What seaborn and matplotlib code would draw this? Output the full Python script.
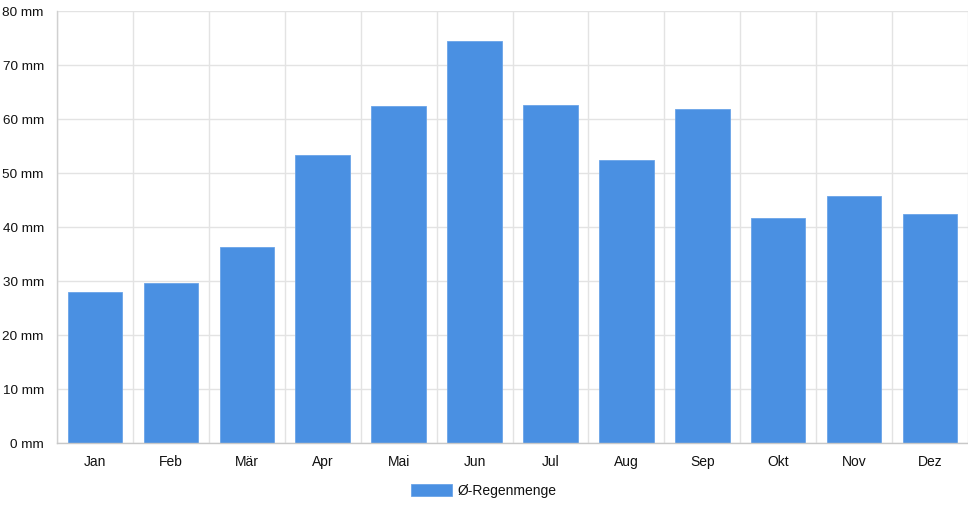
import matplotlib
matplotlib.use("Agg")
import matplotlib.pyplot as plt
import seaborn as sns
import pandas as pd
import numpy as np

months = ["Jan", "Feb", "Mär", "Apr", "Mai", "Jun", "Jul", "Aug", "Sep", "Okt", "Nov", "Dez"]
rain_mm = [28.0, 29.7, 36.4, 53.4, 62.5, 74.5, 62.6, 52.4, 61.9, 41.8, 45.8, 42.4]
series_name = "Ø-Regenmenge"
y_ticks = [0, 10, 20, 30, 40, 50, 60, 70, 80]
y_tick_labels = [f"{v} mm" for v in y_ticks]

sns.set_theme(style="white")
plt.rcParams['font.family'] = ['Liberation Sans', 'DejaVu Sans']

df = pd.DataFrame({"Monat": months, "Regen": rain_mm})

W, H = 968, 508
fig = plt.figure(figsize=(W / 100, H / 100), dpi=100)
ax = fig.add_axes([57 / W, 1 - 443.3 / H, (968 - 57) / W, (443.3 - 11.3) / H])

bar_color = "#4a90e2"
sns.barplot(data=df, x="Monat", y="Regen", color=bar_color, width=0.717,
            label=series_name, ax=ax, edgecolor="#6aa4e8", linewidth=0.6,
            saturation=1)

fs = 10
ax.set_ylim(0, 80)
ax.set_xlim(-0.5, len(months) - 0.5)
ax.set_yticks(y_ticks)
ax.set_yticklabels(y_tick_labels, fontsize=9.7, color="#111111")
ax.set_xticks(range(len(months)))
ax.set_xticklabels(months, fontsize=fs, color="#111111")
ax.set_xlabel("")
ax.set_ylabel("")

# category boundaries as minor ticks with vertical grid
ax.set_xticks(np.arange(-0.5, len(months) + 0.5, 1), minor=True)
ax.tick_params(axis="x", which="major", length=0, pad=8.5)
ax.tick_params(axis="x", which="minor", length=8, color="#dcdcdc", width=1)
ax.tick_params(axis="y", which="major", length=7, color="#dcdcdc", width=1, pad=2.5)
ax.grid(True, axis="y", which="major", color="#e3e3e3", linewidth=1)
ax.grid(True, axis="x", which="minor", color="#e3e3e3", linewidth=1)
ax.set_axisbelow(True)

for side in ["top", "right"]:
    ax.spines[side].set_visible(False)
ax.spines["left"].set_color("#d0d0d0")
ax.spines["bottom"].set_color("#c8c8c8")
ax.spines["left"].set_linewidth(1)
ax.spines["bottom"].set_linewidth(1)

leg = ax.legend(loc="center", bbox_to_anchor=((484 - 57) / (968 - 57), -(490.5 - 443.3) / 432),
                frameon=False, fontsize=fs, handlelength=2.9, handleheight=1.0,
                handletextpad=0.45)
for t in leg.get_texts():
    t.set_color("#111111")

fig.savefig("out.png", dpi=100)
